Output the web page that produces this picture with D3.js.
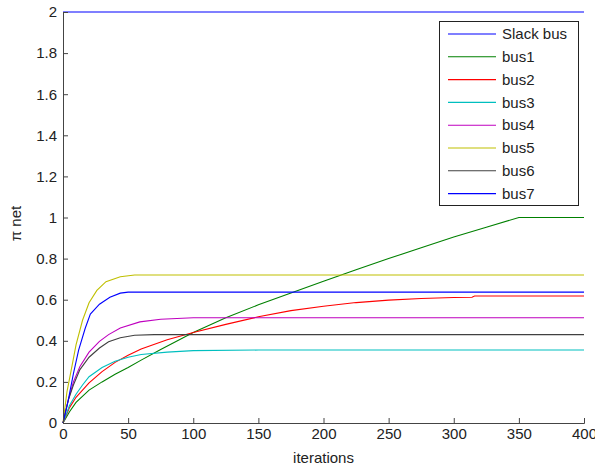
<!DOCTYPE html>
<html>
<head>
<meta charset="utf-8">
<script src="https://cdn.jsdelivr.net/npm/d3@7"></script>
<style>
  body { margin: 0; background: #fff; }
  text { font-family: Arial, "Liberation Sans", sans-serif; fill: #222; }
</style>
</head>
<body>
<div id="chart-area"></div>
<script>
// series names, colours follow MATLAB's default line order
var names = ["Slack bus", "bus1", "bus2", "bus3", "bus4", "bus5", "bus6", "bus7"];
var colors = ["#0000ff", "#008000", "#ff0000", "#00bfbf", "#bf00bf", "#bfbf00", "#404040", "#0000ff"];

// [iteration, value] pairs
var slack = [[0, 2], [400, 2]];
var bus1 = [[0, 0], [5, 0.055], [10, 0.1], [20, 0.16], [30, 0.2], [40, 0.237], [50, 0.27], [60, 0.306],
            [75, 0.358], [100, 0.44], [125, 0.512], [150, 0.575], [175, 0.633], [200, 0.69],
            [225, 0.746], [250, 0.8], [275, 0.853], [300, 0.905], [325, 0.953], [350, 1.0], [400, 1.0]];
var bus2 = [[0, 0], [5, 0.075], [10, 0.125], [15, 0.16], [20, 0.195], [30, 0.25], [40, 0.295],
            [50, 0.33], [60, 0.36], [80, 0.405], [100, 0.44], [125, 0.48], [150, 0.517], [175, 0.547],
            [200, 0.568], [225, 0.586], [250, 0.598], [275, 0.606], [300, 0.611], [314, 0.612],
            [316, 0.618], [400, 0.618]];
var bus3 = [[0, 0], [5, 0.085], [10, 0.14], [15, 0.185], [20, 0.225], [30, 0.27], [40, 0.3],
            [50, 0.32], [60, 0.333], [80, 0.345], [100, 0.352], [150, 0.355], [400, 0.355]];
var bus4 = [[0, 0], [4, 0.11], [8, 0.2], [13, 0.275], [20, 0.345], [28, 0.397], [35, 0.43],
            [44, 0.462], [59, 0.492], [75, 0.505], [100, 0.512], [400, 0.512]];
var bus5 = [[0, 0], [3, 0.15], [7, 0.28], [10, 0.38], [15, 0.5], [20, 0.585], [26, 0.645],
            [33, 0.688], [44, 0.712], [55, 0.72], [400, 0.72]];
var bus6 = [[0, 0], [4, 0.11], [8, 0.185], [13, 0.26], [20, 0.32], [28, 0.365], [35, 0.395],
            [44, 0.415], [55, 0.427], [70, 0.43], [400, 0.43]];
var bus7 = [[0, 0], [4, 0.11], [8, 0.24], [12, 0.355], [17, 0.46], [21, 0.53], [28, 0.578],
            [36, 0.612], [44, 0.632], [50, 0.637], [400, 0.637]];
var series = [slack, bus1, bus2, bus3, bus4, bus5, bus6, bus7];

var xTicks = [0, 50, 100, 150, 200, 250, 300, 350, 400];
var yTicks = [0, 0.2, 0.4, 0.6, 0.8, 1, 1.2, 1.4, 1.6, 1.8, 2];

var margin = { left: 63, right: 11, top: 12, bottom: 47 };
var width = 595 - margin.left - margin.right,
    height = 470 - margin.top - margin.bottom;

var svg = d3.select("#chart-area")
    .append("svg")
        .attr("width", 595)
        .attr("height", 470)
    .append("g")
        .attr("transform", "translate(" + margin.left + "," + margin.top + ")");

var x = d3.scaleLinear().domain([0, 400]).range([0, width]);
var y = d3.scaleLinear().domain([0, 2]).range([height, 0]);

var xAxisCall = d3.axisBottom(x)
    .tickValues(xTicks)
    .tickSize(-5)
    .tickPadding(5)
    .tickFormat(d3.format("d"));

var yAxisCall = d3.axisLeft(y)
    .tickValues(yTicks)
    .tickSize(-5)
    .tickPadding(6)
    .tickFormat(function(d) { return d3.format("~g")(d); });

// lines first, axes on top like MATLAB
var line = d3.line()
    .x(function(d) { return x(d[0]); })
    .y(function(d) { return y(d[1]); });

svg.selectAll("path.series")
    .data(series).enter()
    .append("path")
        .attr("class", "series")
        .attr("d", line)
        .attr("fill", "none")
        .attr("stroke", function(d, i) { return colors[i]; })
        .attr("stroke-width", 1.1);

var gx = svg.append("g")
    .attr("transform", "translate(0," + height + ")")
    .call(xAxisCall);

var gy = svg.append("g")
    .call(yAxisCall);

[gx, gy].forEach(function(g) {
    g.select(".domain").attr("stroke", "#444");
    g.selectAll(".tick line").attr("stroke", "#444");
    g.selectAll(".tick text")
        .attr("font-size", "15px")
        .attr("font-family", "Arial, 'Liberation Sans', sans-serif")
        .attr("fill", "#222");
});

// legend
var legend = svg.append("g")
    .attr("transform", "translate(" + (439 - margin.left) + "," + (21 - margin.top) + ")");

legend.append("rect")
    .attr("x", 0.5)
    .attr("y", 0.5)
    .attr("width", 139)
    .attr("height", 184)
    .attr("fill", "#fff")
    .attr("stroke", "#222");

var rows = legend.selectAll("g.row")
    .data(names).enter()
    .append("g")
        .attr("class", "row")
        .attr("transform", function(d, i) { return "translate(0," + (13 + i * 22.8) + ")"; });

rows.append("line")
    .attr("x1", 9)
    .attr("x2", 57)
    .attr("y1", 0)
    .attr("y2", 0)
    .attr("stroke", function(d, i) { return colors[i]; })
    .attr("stroke-width", 1.1);

rows.append("text")
    .attr("x", 63)
    .attr("y", 0)
    .attr("dy", "0.35em")
    .attr("font-size", "15px")
    .text(function(d) { return d; });

// X Label
svg.append("text")
    .attr("x", width / 2)
    .attr("y", height + 40)
    .attr("font-size", "15px")
    .attr("text-anchor", "middle")
    .text("iterations");

// Y Label
svg.append("text")
    .attr("x", -(height / 2) - 6)
    .attr("y", -42)
    .attr("font-size", "15px")
    .attr("text-anchor", "middle")
    .attr("transform", "rotate(-90)")
    .text("π net");
</script>
</body>
</html>
